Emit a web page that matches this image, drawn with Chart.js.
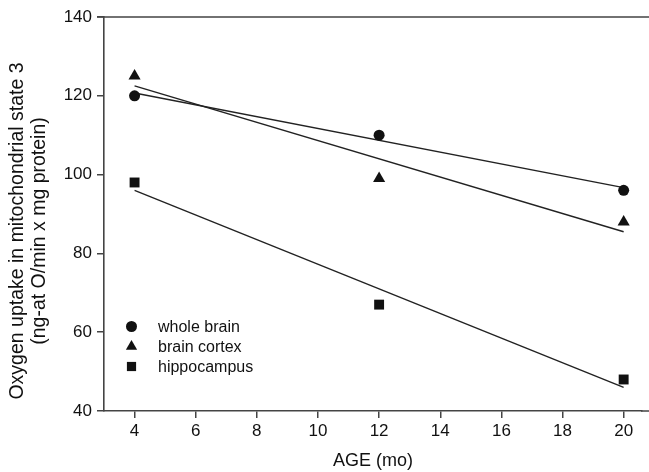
<!DOCTYPE html>
<html>
<head>
<meta charset="utf-8">
<script src="https://cdn.jsdelivr.net/npm/chart.js@4.4.1/dist/chart.umd.min.js"></script>
<style>
html,body{margin:0;padding:0;background:#fff;}
canvas{display:block;}
</style>
</head>
<body>
<canvas id="c" width="649" height="472"></canvas>
<script>
const ages = [4, 12, 20];
const wholeBrain = [120, 110, 96];
const brainCortex = [125, 99, 88];
const hippocampus = [98, 67, 48];

const fitAges = [4, 20];
const wholeBrainFit = [120.7, 96.7];
const brainCortexFit = [122.5, 85.5];
const hippocampusFit = [96, 46];

const xTicks = [4, 6, 8, 10, 12, 14, 16, 18, 20];
const yTicks = [40, 60, 80, 100, 120, 140];

const seriesNames = ['whole brain', 'brain cortex', 'hippocampus'];
const yTitle = ['Oxygen uptake in mitochondrial state 3', '(ng-at O/min x mg protein)'];
const xTitle = 'AGE (mo)';

const FONT = '"Liberation Sans", Arial, Helvetica, sans-serif';
const INK = '#111';

const pts = (xs, ys) => xs.map((x, i) => ({x: x, y: ys[i]}));

const styles = [
  {style: 'circle', radius: 5.5},
  {style: 'triangle', radius: 7},
  {style: 'rect', radius: 7}
];

function drawMarker(ctx, style, r, x, y) {
  ctx.beginPath();
  if (style === 'circle') {
    ctx.arc(x, y, r, 0, Math.PI * 2);
  } else if (style === 'triangle') {
    let rad = 0;
    ctx.moveTo(x + Math.sin(rad) * r, y - Math.cos(rad) * r);
    rad += 2 * Math.PI / 3;
    ctx.lineTo(x + Math.sin(rad) * r, y - Math.cos(rad) * r);
    rad += 2 * Math.PI / 3;
    ctx.lineTo(x + Math.sin(rad) * r, y - Math.cos(rad) * r);
    ctx.closePath();
  } else {
    const s = r / Math.SQRT2;
    ctx.rect(x - s, y - s, 2 * s, 2 * s);
  }
  ctx.fillStyle = INK;
  ctx.fill();
}

const decorPlugin = {
  id: 'decor',
  afterDraw(chart) {
    const ctx = chart.ctx;
    const a = chart.chartArea;
    ctx.save();
    ctx.strokeStyle = '#444';
    ctx.lineWidth = 1.6;
    ctx.beginPath();
    ctx.moveTo(a.left - 7, a.top);
    ctx.lineTo(chart.width + 10, a.top);
    ctx.moveTo(a.right - 1, a.bottom);
    ctx.lineTo(chart.width + 10, a.bottom);
    ctx.stroke();

    ctx.fillStyle = INK;
    ctx.font = '19.5px ' + FONT;
    ctx.textAlign = 'center';
    ctx.textBaseline = 'middle';
    ctx.translate(0, 231);
    ctx.rotate(-Math.PI / 2);
    ctx.fillText(yTitle[0], 0, 18);
    ctx.fillText(yTitle[1], 0, 40);
    ctx.restore();

    ctx.save();
    ctx.font = '16px ' + FONT;
    ctx.textAlign = 'left';
    ctx.textBaseline = 'middle';
    const lx = 131.5, tx = 158, ly0 = 326.5, dy = 20;
    seriesNames.forEach((name, i) => {
      const y = ly0 + i * dy;
      const st = styles[i];
      const r = st.style === 'circle' ? 5.5 : 6.5;
      drawMarker(ctx, st.style, r, lx, y);
      ctx.fillStyle = INK;
      ctx.fillText(name, tx, y + 1);
    });
    ctx.restore();
  }
};

const lineDs = (ys) => ({
  type: 'line',
  data: pts(fitAges, ys),
  borderColor: '#222',
  borderWidth: 1.4,
  pointRadius: 0,
  fill: false,
  order: 2
});

const markDs = (ys, i) => ({
  type: 'scatter',
  label: seriesNames[i],
  data: pts(ages, ys),
  pointStyle: styles[i].style,
  pointRadius: styles[i].radius,
  pointBackgroundColor: INK,
  pointBorderColor: INK,
  pointBorderWidth: 0,
  showLine: false,
  order: 1
});

new Chart(document.getElementById('c'), {
  type: 'scatter',
  data: {
    datasets: [
      lineDs(wholeBrainFit), lineDs(brainCortexFit), lineDs(hippocampusFit),
      markDs(wholeBrain, 0), markDs(brainCortex, 1), markDs(hippocampus, 2)
    ]
  },
  options: {
    responsive: false,
    animation: false,
    events: [],
    layout: {padding: {top: 17, left: 0, right: -4, bottom: 0}},
    plugins: {legend: {display: false}, tooltip: {enabled: false}},
    scales: {
      x: {
        type: 'linear',
        min: 3,
        max: 20.6,
        afterBuildTicks: (s) => { s.ticks = xTicks.map(v => ({value: v})); },
        afterFit: (s) => { s.height = 61; s.paddingLeft = 0; s.paddingRight = 0; },
        grid: {display: true, drawOnChartArea: false, drawTicks: true, tickLength: 7, color: '#444', lineWidth: 1.5},
        border: {display: true, color: '#444', width: 1.6},
        ticks: {font: {size: 17, family: FONT}, color: INK, padding: 3, maxRotation: 0, autoSkip: false},
        title: {display: true, text: xTitle, font: {size: 18, family: FONT}, color: INK, padding: {top: 2, bottom: 0}}
      },
      y: {
        min: 40,
        max: 140,
        afterBuildTicks: (s) => { s.ticks = yTicks.map(v => ({value: v})); },
        afterFit: (s) => { s.width = 104; s.paddingTop = 0; s.paddingBottom = 0; },
        grid: {display: true, drawOnChartArea: false, drawTicks: true, tickLength: 7, color: '#444', lineWidth: 1.5},
        border: {display: true, color: '#444', width: 1.6},
        ticks: {font: {size: 17, family: FONT}, color: INK, padding: 5}
      }
    }
  },
  plugins: [decorPlugin]
});
</script>
</body>
</html>
